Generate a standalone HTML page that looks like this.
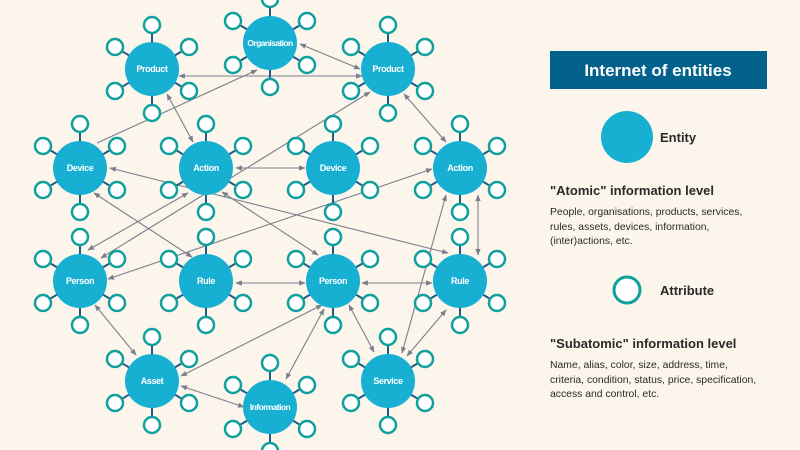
<!DOCTYPE html>
<html><head><meta charset="utf-8"><style>
html,body{margin:0;padding:0;background:#fcf5ec;}
svg{display:block;font-family:"Liberation Sans",sans-serif;}
.el{fill:#fff;font-weight:bold;font-size:9px;text-anchor:middle;letter-spacing:-0.4px;}
</style></head><body>
<svg id="s" width="800" height="450" viewBox="0 0 800 450" xmlns="http://www.w3.org/2000/svg">
<defs><marker id="a" viewBox="0 0 10 10" refX="9" refY="5" markerWidth="6" markerHeight="6" orient="auto-start-reverse"><path d="M0,1 L10,5 L0,9 z" fill="#7a7f8c"/></marker></defs>
<rect width="800" height="450" fill="#fcf5ec"/>
<g id="lines"></g>
<g id="nodes"></g>
<g id="labels">
<text class="el" x="152" y="72">Product</text>
<text class="el" x="270" y="46" style="font-size:8.5px;letter-spacing:-0.6px">Organisation</text>
<text class="el" x="388" y="72">Product</text>
<text class="el" x="80" y="171">Device</text>
<text class="el" x="206" y="171">Action</text>
<text class="el" x="333" y="171">Device</text>
<text class="el" x="460" y="171">Action</text>
<text class="el" x="80" y="284">Person</text>
<text class="el" x="206" y="284">Rule</text>
<text class="el" x="333" y="284">Person</text>
<text class="el" x="460" y="284">Rule</text>
<text class="el" x="152" y="384">Asset</text>
<text class="el" x="270" y="410" style="font-size:8.5px;letter-spacing:-0.6px">Information</text>
<text class="el" x="388" y="384">Service</text>
</g>
<rect x="550" y="51" width="217" height="38" fill="#02628b"/>
<text x="658" y="76" fill="#fff" font-size="17" font-weight="bold" text-anchor="middle">Internet of entities</text>
<circle cx="627" cy="137" r="26" fill="#17b0d3"/>
<text x="660" y="142" fill="#2a2a2a" font-size="13" font-weight="bold">Entity</text>
<text x="550" y="195" fill="#2a2a2a" font-size="13" font-weight="bold">"Atomic" information level</text>
<g fill="#2a2a2a" font-size="10.4">
<text x="550" y="215">People, organisations, products, services,</text>
<text x="550" y="230">rules, assets, devices, information,</text>
<text x="550" y="244">(inter)actions, etc.</text>
</g>
<circle cx="627" cy="290" r="13" fill="#fff" stroke="#0fa09d" stroke-width="3"/>
<text x="660" y="295" fill="#2a2a2a" font-size="13" font-weight="bold">Attribute</text>
<text x="550" y="348" fill="#2a2a2a" font-size="13" font-weight="bold">"Subatomic" information level</text>
<g fill="#2a2a2a" font-size="10.4">
<text x="550" y="368">Name, alias, color, size, address, time,</text>
<text x="550" y="383">criteria, condition, status, price, specification,</text>
<text x="550" y="397">access and control, etc.</text>
</g>
</svg>
<script>
var NS="http://www.w3.org/2000/svg";
function el(t,a,p){var e=document.createElementNS(NS,t);for(var k in a)e.setAttribute(k,a[k]);p.appendChild(e);return e;}
var N=[[152,69],[270,43],[388,69],[80,168],[206,168],[333,168],[460,168],[80,281],[206,281],[333,281],[460,281],[152,381],[270,407],[388,381]];
var g=document.getElementById("nodes");
var offs=[[0,-44],[0,44],[-37,-22],[37,-22],[-37,22],[37,22]];
N.forEach(function(n){
 offs.forEach(function(o){el("line",{x1:n[0],y1:n[1],x2:n[0]+o[0],y2:n[1]+o[1],stroke:"#1d5d86","stroke-width":2},g);});
 offs.forEach(function(o){el("circle",{cx:n[0]+o[0],cy:n[1]+o[1],r:8,fill:"#fff",stroke:"#0fa09d","stroke-width":2.5},g);});
 el("circle",{cx:n[0],cy:n[1],r:27,fill:"#17b0d3"},g);
});
var L=[[179,76,362,76,1],[300,44,360,69,1],[97,143,257,70,0],[167,94,193,142,1],[101,258,370,92,1],[88,250,188,193,1],[236,168,305,168,1],[110,168,448,253,1],[94,193,192,257,1],[222,192,318,255,1],[108,279,432,169,1],[236,283,305,283,1],[362,283,432,283,1],[478,195,478,255,1],[402,353,446,195,1],[407,356,446,310,1],[349,305,374,352,1],[95,305,136,355,1],[181,376,322,305,1],[181,386,244,407,1],[286,379,324,309,1],[404,94,446,142,1]];
var lg=document.getElementById("lines");
L.forEach(function(l){var a={x1:l[0],y1:l[1],x2:l[2],y2:l[3],stroke:"#7a7f8c","stroke-width":1.1,"marker-end":"url(#a)"};if(l[4])a["marker-start"]="url(#a)";el("line",a,lg);});
</script>
</body></html>
